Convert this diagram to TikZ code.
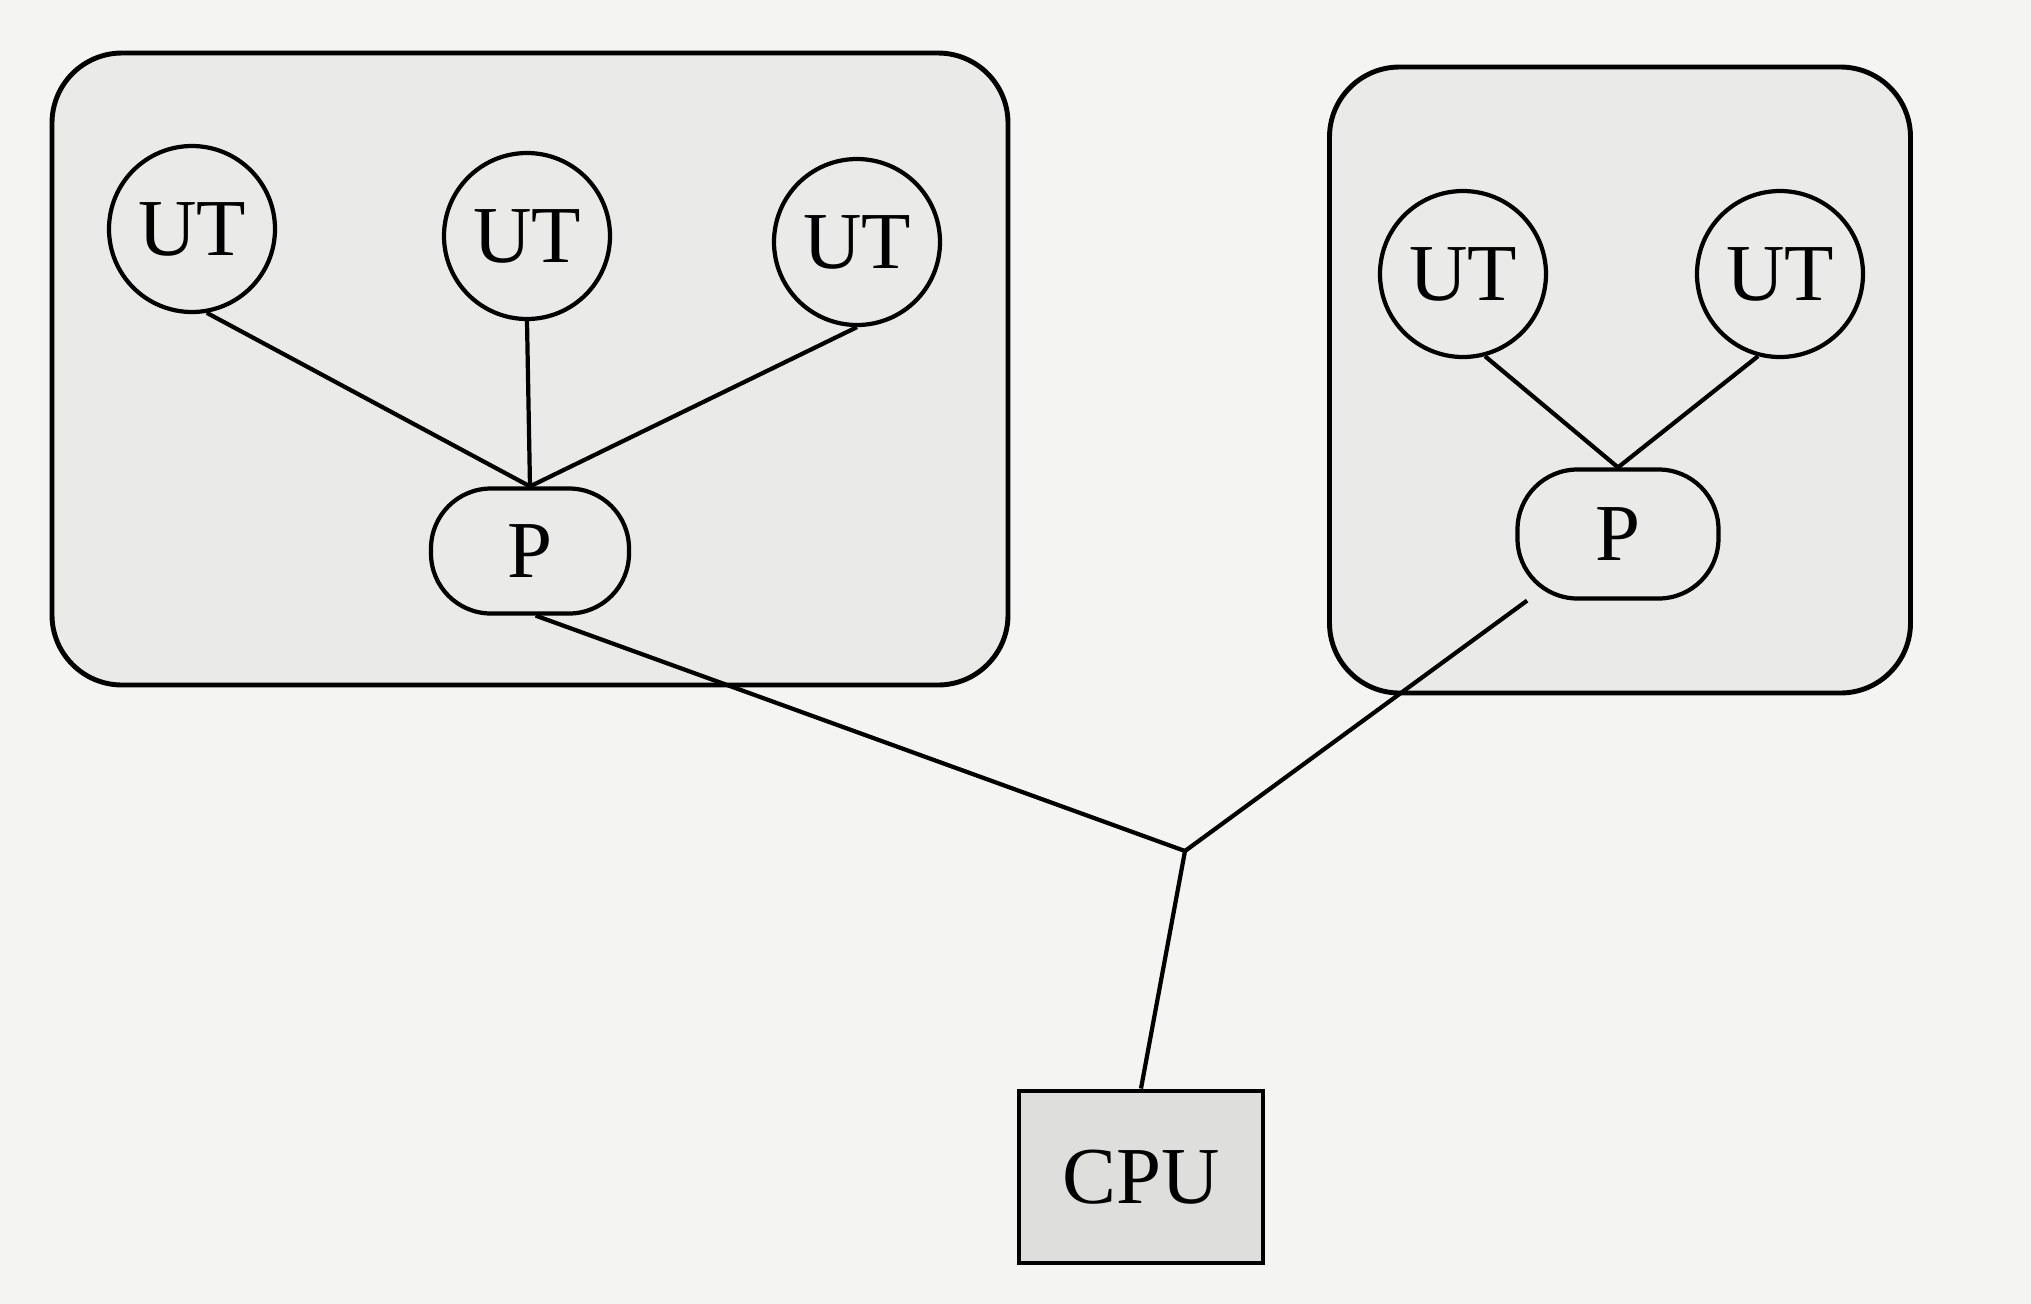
\documentclass[tikz,border=0pt]{standalone}
\usepackage{fontspec}
\setmainfont{Liberation Serif}
\definecolor{paper}{RGB}{244,244,243}
\definecolor{groupfill}{RGB}{234,234,233}
\definecolor{cpufill}{RGB}{222,222,221}

\begin{document}
\begin{tikzpicture}[line width=1.2pt, every node/.style={font=\fontsize{23}{27}\selectfont}, group/.style={rectangle, draw, line width=1.4pt, rounded corners=0.7cm, fill=groupfill}, term/.style={circle, draw, fill=groupfill, minimum size=1.66cm, inner sep=0pt}, proc/.style={rectangle, draw, rounded corners=0.6cm, fill=groupfill, minimum width=1.98cm, minimum height=1.25cm}, cpubox/.style={rectangle, draw, line width=1.4pt, fill=cpufill, minimum width=2.44cm, minimum height=1.72cm}]
  {
  \fill[paper] (0,0) rectangle (20.31,-13.04);
  \useasboundingbox (0,0) rectangle (20.31,-13.04);
  \node[group, minimum width=9.56cm, minimum height=6.32cm] (left) at (5.30,-3.69) {};
  \node[group, minimum width=5.81cm, minimum height=6.26cm] (right) at (16.20,-3.80) {};

  \node[term] (ut1) at (1.92,-2.29) {UT};
  \node[term] (ut2) at (5.27,-2.36) {UT};
  \node[term] (ut3) at (8.57,-2.42) {UT};
  \node[proc] (p1) at (5.30,-5.51) {P};

  \node[term] (ut4) at (14.63,-2.74) {UT};
  \node[term] (ut5) at (17.80,-2.74) {UT};
  \node[proc, minimum width=2.01cm, minimum height=1.29cm] (p2) at (16.18,-5.34) {P};

  \node[coordinate] (jn) at (11.85,-8.51) {};
  \node[cpubox] (cpu) at (11.41,-11.77) {CPU};

  \draw (ut1.-80) -- (p1.north);
  \draw (ut2.south) -- (p1.north);
  \draw (ut3.south) -- (p1.north);
  \draw (ut4.-75) -- (p2.north);
  \draw (ut5.-105) -- (p2.north);
  \draw (p1.-85) -- (jn);
  \draw (p2) -- (jn);
  \draw (jn) -- (cpu.north);
}
\end{tikzpicture}
\end{document}
